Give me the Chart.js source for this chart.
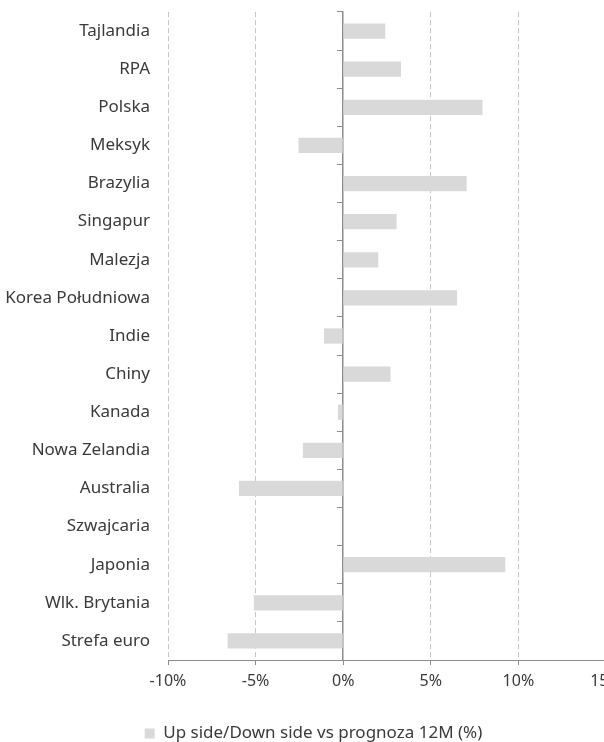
<!DOCTYPE html>
<html>
<head>
<meta charset="utf-8">
<script src="https://cdn.jsdelivr.net/npm/chart.js@4/dist/chart.umd.min.js"></script>
<style>
  html, body { margin: 0; padding: 0; background: #ffffff; overflow: hidden; width: 604px; height: 742px; }
  #wrap { position: absolute; left: 0; top: 0; width: 627px; height: 752px; }
</style>
</head>
<body>
<div id="wrap"><canvas id="c" width="627" height="752"></canvas></div>
<script>
const categories = ["Tajlandia", "RPA", "Polska", "Meksyk", "Brazylia", "Singapur", "Malezja",
  "Korea Południowa", "Indie", "Chiny", "Kanada", "Nowa Zelandia", "Australia", "Szwajcaria",
  "Japonia", "Wlk. Brytania", "Strefa euro"];
const seriesName = "Up side/Down side vs prognoza 12M (%)";
const upsideValues = [2.4, 3.3, 7.95, -2.55, 7.05, 3.05, 2.0, 6.5, -1.1, 2.7, -0.3, -2.3, -5.95, 0, 9.25, -5.1, -6.6];
const xTickValues = [-10, -5, 0, 5, 10, 15];

const FONT = "'Noto Sans', 'DejaVu Sans', sans-serif";
const TEXT = "#3a3a3a";

new Chart(document.getElementById('c'), {
  type: 'bar',
  data: {
    labels: categories,
    datasets: [{
      label: seriesName,
      data: upsideValues,
      backgroundColor: '#d9d9d9',
      borderWidth: 0,
      barPercentage: 0.4,
      categoryPercentage: 1.0,
      xAxisID: 'x',
      yAxisID: 'y'
    }]
  },
  options: {
    indexAxis: 'y',
    responsive: false,
    animation: false,
    devicePixelRatio: 1,
    layout: { padding: { top: 12, left: 0, right: 0, bottom: 0 } },
    plugins: {
      legend: {
        display: true,
        position: 'bottom',
        labels: {
          boxWidth: 10, boxHeight: 10, padding: 10,
          color: TEXT,
          font: { family: FONT, size: 17 }
        }
      },
      tooltip: { enabled: false },
      title: { display: false }
    },
    scales: {
      x: {
        type: 'linear',
        position: 'bottom',
        min: -10, max: 15,
        afterBuildTicks: (s) => { s.ticks = xTickValues.map(v => ({ value: v })); },
        afterFit: (s) => { s.height = 55; s.paddingLeft = 0; s.paddingRight = 21; },
        ticks: {
          color: TEXT,
          padding: 7,
          font: { family: FONT, size: 16 },
          callback: (v) => v + '%'
        },
        grid: {
          drawTicks: true,
          tickLength: 5,
          lineWidth: 1,
          color: (ctx) => (ctx.tick && ctx.tick.value === 0) ? 'rgba(0,0,0,0)' : '#c6c6c6',
          tickColor: '#8c8c8c'
        },
        border: { display: true, color: '#8c8c8c', width: 1, dash: [5, 3] }
      },
      y: {
        type: 'category',
        position: 'left',
        afterFit: (s) => { s.width = 168; s.paddingTop = 0; s.paddingBottom = 0; },
        ticks: {
          color: TEXT,
          padding: 18,
          font: { family: FONT, size: 17 }
        },
        grid: { display: false, drawTicks: false },
        border: { display: false }
      },
      y2: {
        type: 'category',
        axis: 'y',
        position: { x: 0 },
        offset: true,
        ticks: { display: false },
        grid: {
          offset: true,
          drawOnChartArea: false,
          drawTicks: true,
          tickLength: 5,
          color: '#8c8c8c',
          lineWidth: 1
        },
        border: { display: true, color: '#8c8c8c', width: 1.5 }
      }
    }
  }
});
</script>
</body>
</html>
